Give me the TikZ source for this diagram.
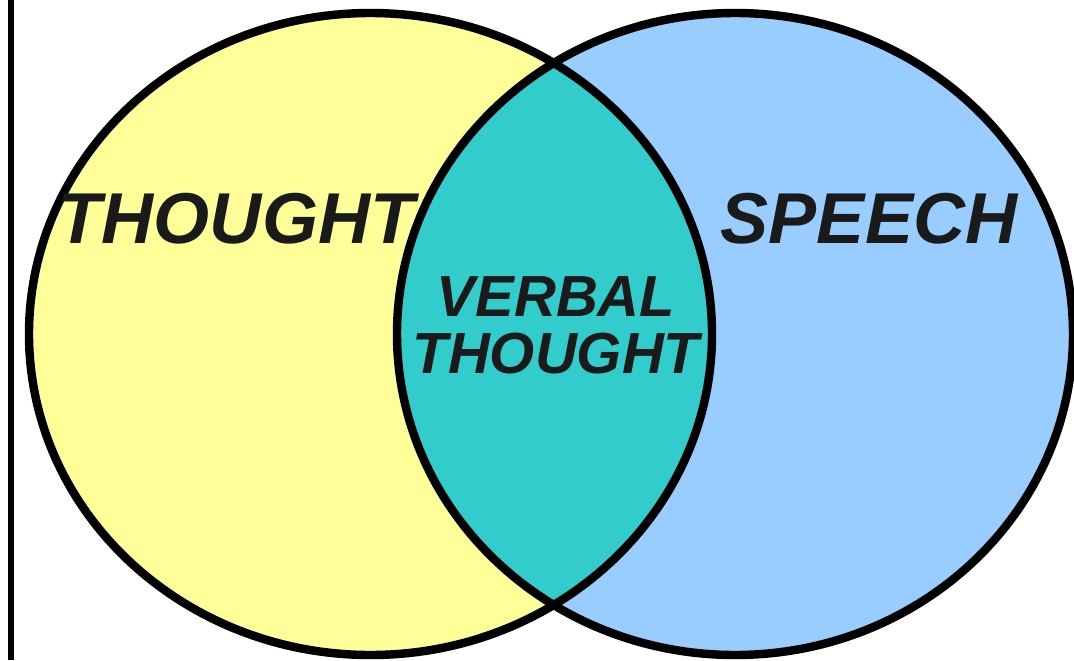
\documentclass[tikz,border=0pt]{standalone}
\usepackage{fontspec}
\setsansfont{Liberation Sans}
\usepackage{tikz}
\usetikzlibrary{positioning}
\definecolor{ThoughtYellow}{HTML}{FFFF99}
\definecolor{SpeechBlue}{HTML}{99CCFF}
\definecolor{OverlapTeal}{HTML}{33CCCC}
\definecolor{LabelInk}{HTML}{1A1A1A}

\begin{document}
\begin{tikzpicture}[
  setlabel/.style={
    anchor=base,
    inner sep=0pt,
    text=LabelInk,
    font=\fontsize{20.5}{22}\selectfont\sffamily\bfseries\itshape
  },
  overlaplabel/.style={
    anchor=center,
    inner sep=0pt,
    align=center,
    text=LabelInk,
    font=\fontsize{16.5}{16.2}\selectfont\sffamily\bfseries\itshape
  },
  outline/.style={draw=black,line width=2.4pt},
  margin/.style={draw=black,line width=1.6pt}
]

\clip (0,0) rectangle (10.74,6.60);

% the two sets
\path[fill=ThoughtYellow] (3.705,3.26) ellipse [x radius=3.415, y radius=3.21];
\path[fill=SpeechBlue] (7.35,3.26) ellipse [x radius=3.38, y radius=3.21];

% overlap
\begin{scope}
  \clip (3.705,3.26) ellipse [x radius=3.415, y radius=3.21];
  \fill[OverlapTeal] (7.35,3.26) ellipse [x radius=3.38, y radius=3.21];
\end{scope}

\draw[outline] (3.705,3.26) ellipse [x radius=3.415, y radius=3.21];
\draw[outline] (7.35,3.26) ellipse [x radius=3.38, y radius=3.21];

\draw[margin] (0.11,0) -- (0.11,6.60);

\node[setlabel] (thought) at (2.36,4.17) {THOUGHT};
\node[setlabel] (speech) at (8.69,4.17) {SPEECH};
\node[overlaplabel] (verbal) at (5.56,3.35) {VERBAL\\THOUGHT};
\end{tikzpicture}
\end{document}
